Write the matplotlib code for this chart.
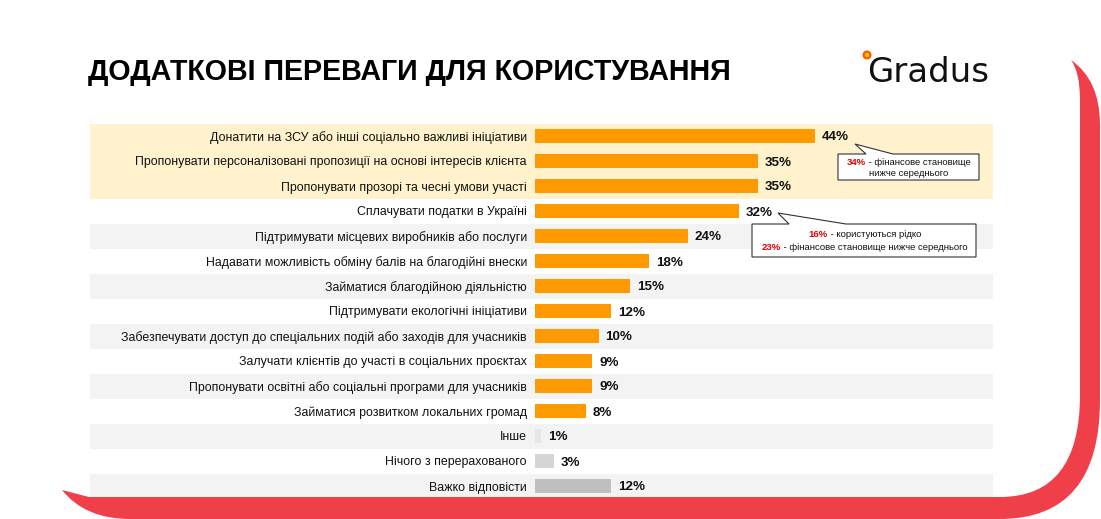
import matplotlib
matplotlib.use("Agg")
import matplotlib.pyplot as plt
from matplotlib import font_manager
from matplotlib.path import Path
from matplotlib.patches import PathPatch, Polygon, Circle

W, H = 1101, 519
DPI = 100

categories = [
    "Донатити на ЗСУ або інші соціально важливі ініціативи",
    "Пропонувати персоналізовані пропозиції на основі інтересів клієнта",
    "Пропонувати прозорі та чесні умови участі",
    "Сплачувати податки в Україні",
    "Підтримувати місцевих виробників або послуги",
    "Надавати можливість обміну балів на благодійні внески",
    "Займатися благодійною діяльністю",
    "Підтримувати екологічні ініціативи",
    "Забезпечувати доступ до спеціальних подій або заходів для учасників",
    "Залучати клієнтів до участі в соціальних проєктах",
    "Пропонувати освітні або соціальні програми для учасників",
    "Займатися розвитком локальних громад",
    "Інше",
    "Нічого з перерахованого",
    "Важко відповісти",
]
values = [44, 35, 35, 32, 24, 18, 15, 12, 10, 9, 9, 8, 1, 3, 12]
title = "ДОДАТКОВІ ПЕРЕВАГИ ДЛЯ КОРИСТУВАННЯ"
callout1 = [("34%", " - фінансове становище"), ("", "нижче середнього")]
callout2 = [("16%", " - користуються рідко"), ("23%", " - фінансове становище нижче середнього")]

ORANGE = "#FF9900"
bar_colors = [ORANGE] * 12 + ["#E6E6E6", "#D6D6D6", "#BFBFBF"]
RED = "#EF4049"
FONT = ["Liberation Sans", "DejaVu Sans"]
plt.rcParams["font.family"] = FONT

names = {f.name for f in font_manager.fontManager.ttflist}
if "Liberation Sans Narrow" in names:
    TITLE_FONT = ["Liberation Sans Narrow", "Liberation Sans"]
    TITLE_SIZE = 25
else:
    TITLE_FONT = FONT
    TITLE_SIZE = 20.6

fig = plt.figure(figsize=(W / DPI, H / DPI), dpi=DPI)
fig.patch.set_facecolor("white")

# --- bar axes (pixel geometry) ---
px_per_pct = 6.36
x0 = 535
xmax = 70
ax_w = xmax * px_per_pct
row_h = 25
top_c = 136
n = len(values)
y_top = top_c - row_h / 2
y_bot = top_c + row_h * (n - 1) + row_h / 2
ax = fig.add_axes([x0 / W, (H - y_bot) / H, ax_w / W, (y_bot - y_top) / H])
ax.set_xlim(0, xmax)
ax.set_ylim(n - 0.5, -0.5)
ax.patch.set_alpha(0)
for s in ax.spines.values():
    s.set_visible(False)
ax.set_xticks([])
pos = list(range(n))
ax.set_yticks(pos)
ax.set_yticklabels(categories, fontsize=8.9, color="#111111")
ax.tick_params(axis="y", length=0, pad=5.8)

xa = (90 - x0) / ax_w
xb = (993 - x0) / ax_w
ax.axhspan(-0.5, 2.5, xmin=xa, xmax=xb, color="#FFF2CC", zorder=0, clip_on=False, lw=0)
for i in range(4, n, 2):
    ax.axhspan(i - 0.5, i + 0.5, xmin=xa, xmax=xb, color="#F3F3F3", zorder=0, clip_on=False, lw=0)

ax.barh(pos, values, height=0.56, color=bar_colors, zorder=2)
for i, v in enumerate(values):
    ax.text(v + 1.1, i, f"{v}%", va="center_baseline", ha="left", fontsize=9.6,
            fontweight="bold", color="#111111", zorder=3)

# --- overlay axes for decorations ---
ov = fig.add_axes([0, 0, 1, 1], zorder=5)
ov.set_xlim(0, W)
ov.set_ylim(H, 0)
ov.axis("off")
ov.patch.set_alpha(0)

verts = [
    (62, 490), (89, 497), (1000, 497),
    (1080, 497), (1080, 395),
    (1080, 100),
    (1080, 72), (1071, 60),
    (1100, 80), (1100, 125),
    (1100, 400),
    (1100, 519), (1000, 519),
    (130, 519),
    (85, 519), (62, 490),
    (62, 490),
]
codes = [Path.MOVETO, Path.LINETO, Path.LINETO,
         Path.CURVE3, Path.CURVE3,
         Path.LINETO,
         Path.CURVE3, Path.CURVE3,
         Path.CURVE3, Path.CURVE3,
         Path.LINETO,
         Path.CURVE3, Path.CURVE3,
         Path.LINETO,
         Path.CURVE3, Path.CURVE3,
         Path.CLOSEPOLY]
ov.add_patch(PathPatch(Path(verts, codes), facecolor=RED, edgecolor="none"))

# title
ov.text(88, 72, title, fontsize=TITLE_SIZE, fontweight="bold", color="#000000",
        ha="left", va="center", family=TITLE_FONT)

# logo
ov.text(867, 73, "Gradus", fontsize=24.5, color="#111111", ha="left", va="center",
        family=["DejaVu Sans"])
ov.add_patch(Circle((867, 55), 3.4, facecolor="#FFC000", edgecolor="#FF5A00", lw=1.6))


def callout(box, tail, lines, cx, ys, fs=6.8):
    l, t, r, b = box
    (tx, ty), (bl, br) = tail
    poly = [(l, t), (bl, t), (tx, ty), (br, t), (r, t), (r, b), (l, b)]
    ov.add_patch(Polygon(poly, closed=True, facecolor="white", edgecolor="#333333",
                         lw=0.8, zorder=6))
    for (red, rest), y in zip(lines, ys):
        t1 = ov.text(0, 0, red, fontsize=fs, fontweight="bold", color="#E00000")
        t2 = ov.text(0, 0, rest, fontsize=fs, color="#111111")
        fig.canvas.draw()
        r_ = fig.canvas.get_renderer()
        w1 = t1.get_window_extent(r_).width if red else 0
        w2 = t2.get_window_extent(r_).width
        start = cx - (w1 + w2) / 2
        t1.set_position((start, y)); t1.set_va("center"); t1.set_zorder(7)
        t2.set_position((start + w1, y)); t2.set_va("center"); t2.set_zorder(7)


callout((838, 154, 979, 180), ((855, 144), (866, 893)), callout1, 909, [162.5, 173.5])
callout((752, 224, 976, 257), ((778, 213), (789, 846)), callout2, 865, [234.5, 247])

fig.savefig("out.png", dpi=DPI, facecolor="white")
